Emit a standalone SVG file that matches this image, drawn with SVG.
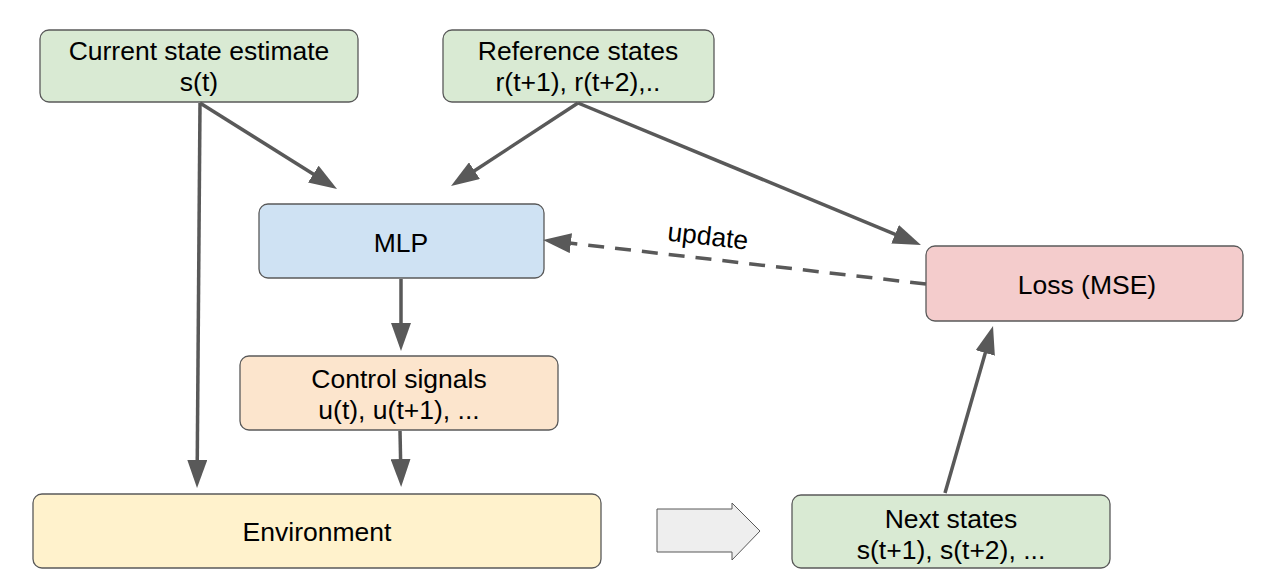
<svg xmlns="http://www.w3.org/2000/svg" width="1280" height="587" viewBox="0 0 1280 587">
<defs>
<marker id="ah" markerWidth="8" markerHeight="5.7" refX="6" refY="2.85" orient="auto" markerUnits="strokeWidth">
<path d="M0,0 L8,2.85 L0,5.7 Z" fill="#595959"/>
</marker>
<style>
.box{stroke:#595959;stroke-width:1.3}
.t{font-family:"Liberation Sans",Arial,sans-serif;font-size:26.5px;fill:#000;text-anchor:middle}
.c{stroke:#595959;stroke-width:3.5;fill:none;marker-end:url(#ah)}
</style>
</defs>
<rect width="1280" height="587" fill="#fff"/>
<g id="current">
<rect class="box" x="40" y="30" width="318" height="72" rx="9" fill="#d9ead3"/>
<text class="t" x="199" y="60">Current state estimate</text>
<text class="t" x="199" y="91">s(t)</text>
</g>
<g id="reference">
<rect class="box" x="443" y="30" width="271" height="72" rx="9" fill="#d9ead3"/>
<text class="t" x="578" y="60">Reference states</text>
<text class="t" x="578" y="91">r(t+1), r(t+2),..</text>
</g>
<g id="mlp">
<rect class="box" x="259" y="204" width="285" height="74" rx="9" fill="#cfe2f3"/>
<text class="t" x="401" y="252" font-size="25">MLP</text>
</g>
<g id="loss">
<rect class="box" x="926" y="246" width="317" height="75" rx="9" fill="#f4cccc"/>
<text class="t" x="1087" y="294">Loss (MSE)</text>
</g>
<g id="control">
<rect class="box" x="240" y="356" width="318" height="74" rx="9" fill="#fce5cd"/>
<text class="t" x="399" y="388">Control signals</text>
<text class="t" x="399" y="419">u(t), u(t+1), ...</text>
</g>
<g id="environment">
<rect class="box" x="33" y="494" width="568" height="74" rx="9" fill="#fff2cc"/>
<text class="t" x="317" y="541">Environment</text>
</g>
<g id="next">
<rect class="box" x="792" y="495" width="318" height="73" rx="9" fill="#d9ead3"/>
<text class="t" x="951" y="528">Next states</text>
<text class="t" x="951" y="559">s(t+1), s(t+2), ...</text>
</g>
<g id="bigarrow">
<path d="M657,509 L732,509 L732,503 L760,531 L732,560 L732,552 L657,552 Z" fill="#eeeeee" stroke="#595959" stroke-width="1"/>
</g>
<g id="connectors">
<line class="c" x1="200" y1="103" x2="197.1" y2="481"/>
<line class="c" x1="200" y1="103" x2="331.1" y2="185.3"/>
<line class="c" x1="578" y1="103" x2="456.9" y2="182.2"/>
<line class="c" x1="578" y1="103" x2="914.5" y2="242.3"/>
<line class="c" x1="401" y1="279" x2="401" y2="344"/>
<line class="c" x1="400" y1="431" x2="401" y2="480"/>
<line class="c" x1="926" y1="284" x2="550" y2="240.8" stroke-dasharray="16,11"/>
<line class="c" x1="945" y1="493" x2="991.1" y2="332.7"/>
<text class="t" x="707" y="245" transform="rotate(6.5 707 245)" font-size="25">update</text>
</g>
</svg>
